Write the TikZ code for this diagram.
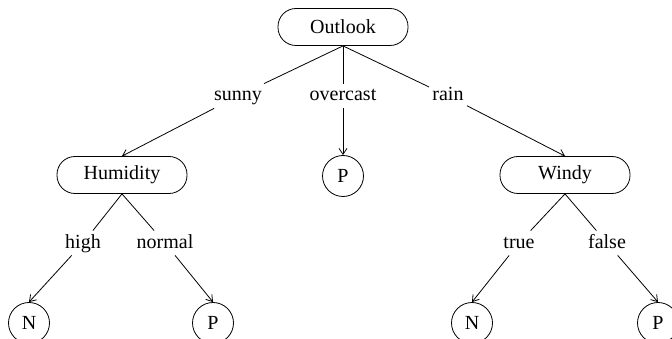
\documentclass[tikz,border=0pt]{standalone}
\usepackage{fontspec}
\setmainfont{Liberation Serif}
\usetikzlibrary{arrows.meta}

\tikzset{
  attr/.style={draw, rounded corners=18pt, minimum width=130pt,
               minimum height=37pt, inner sep=0pt},
  leaf/.style={draw, circle, minimum size=41pt, inner sep=0pt},
  val/.style={inner sep=3pt, text height=14pt, text depth=4pt},
}

\begin{document}
\begin{tikzpicture}[x=1pt, y=-1pt, >={Straight Barb[length=6pt, width=8pt]},
                    line width=0.8pt, font=\fontsize{20}{24}\selectfont]
\useasboundingbox (0,0) rectangle (672,339);
\clip (0,0) rectangle (672,339);

% koren
\node[attr] (outlook) at (343,27) {Outlook};

% hodnoty atributu Outlook
\node[val] (sunny) at (238,96) {sunny};
\node[val] (overcast) at (343,96) {overcast};
\node[val] (rain) at (448,96) {rain};

% druha uroven
\node[attr] (humidity) at (122,175) {Humidity};
\node[leaf] (p0) at (343,176) {P};
\node[attr] (windy) at (565,175) {Windy};

% hodnoty Humidity a Windy
\node[val] (high) at (83,243) {high};
\node[val] (normal) at (165,243) {normal};
\node[val] (true) at (519,243) {true};
\node[val] (false) at (607,243) {false};

% listy
\node[leaf] (n1) at (29,323) {N};
\node[leaf] (p1) at (213,323) {P};
\node[leaf] (n2) at (472,323) {N};
\node[leaf] (p2) at (658,323) {P};

% hrany
\draw (outlook.south) -- (sunny);
\draw (outlook.south) -- (overcast);
\draw (outlook.south) -- (rain);
\draw[->] (sunny) -- (humidity.north);
\draw[->] (overcast) -- (p0.north);
\draw[->] (rain) -- (windy.north);

\draw (humidity.south) -- (high);
\draw (humidity.south) -- (normal);
\draw[->] (high) -- (n1.north);
\draw[->] (normal) -- (p1.north);

\draw (windy.south) -- (true);
\draw (windy.south) -- (false);
\draw[->] (true) -- (n2.north);
\draw[->] (false) -- (p2.north);

\end{tikzpicture}
\end{document}
